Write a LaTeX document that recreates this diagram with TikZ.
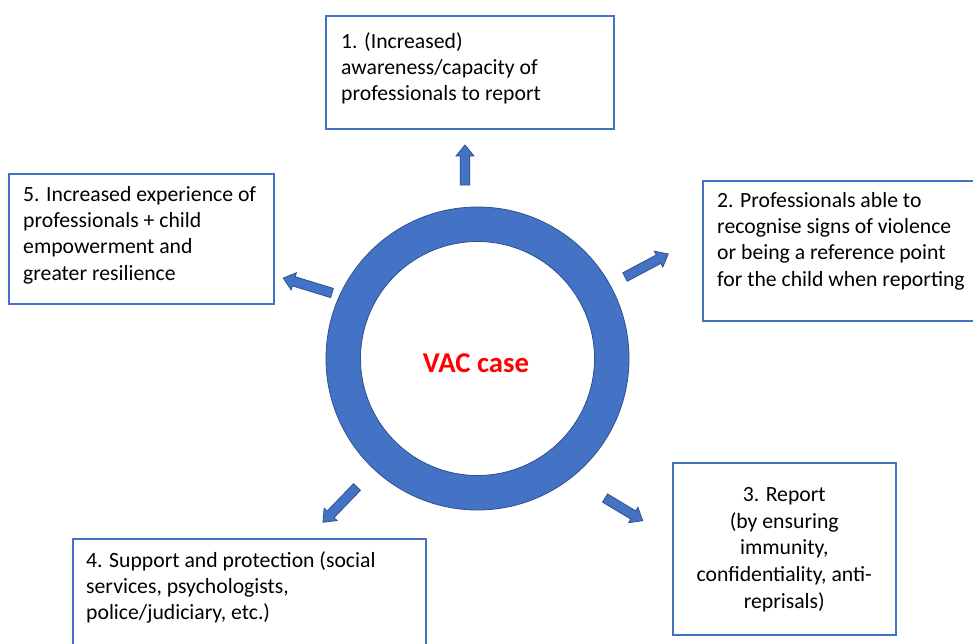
\documentclass[tikz,border=0pt]{standalone}
\usepackage{fontspec}
\setmainfont{Carlito}
\definecolor{accent}{HTML}{4472C4}
\definecolor{accentdark}{HTML}{2F528F}
\tikzset{
  box/.style={draw=accent, line width=1.5pt, inner sep=0pt, anchor=north west},
  boxtext/.style={inner sep=0pt, anchor=north west, align=left,
    font=\fontsize{21.7}{26.3}\selectfont, execute at begin node={\rule{0pt}{17pt}}},
  blockarrow/.style={fill=accent, draw=accentdark, line width=0.8pt, line join=miter},
}
\begin{document}
\begin{tikzpicture}[x=1pt,y=-1pt]
  \useasboundingbox (0,0) rectangle (973,643);
  % central ring
  \coordinate (centre) at (477.5,358.5);
  \fill[accent,even odd rule] (centre) circle (151.5) (centre) circle (117);
  \draw[accentdark,line width=0.8pt] (centre) circle (151.5) (centre) circle (117);
  \node[text=red,font=\fontsize{28.7}{34}\selectfont\bfseries] (vac) at (476,363.5) {VAC case};
  % the five boxes
  \node[box,minimum width=288pt,minimum height=113pt] (b1) at (325,15) {};
  \node[box,minimum width=290pt,minimum height=140pt] (b2) at (702,180) {};
  \node[box,minimum width=223pt,minimum height=172pt] (b3) at (672,462) {};
  \node[box,minimum width=353pt,minimum height=120pt] (b4) at (72,538) {};
  \node[box,minimum width=265pt,minimum height=130pt] (b5) at (8,173) {};
  \node[boxtext] (t1) at ([shift={(16,17)}]b1.north west)
    {1. (Increased)\\awareness/capacity of\\professionals to report};
  \node[boxtext] (t2) at ([shift={(15,12)}]b2.north west)
    {2. Professionals able to\\recognise signs of violence\\or being a reference point\\for the child when reporting};
  \node[boxtext,anchor=north,align=center,font=\fontsize{21.7}{26.8}\selectfont] (t3) at ([shift={(0,25)}]b3.north)
    {3. Report\\(by ensuring\\immunity,\\confidentiality, anti-\\reprisals)};
  \node[boxtext] (t4) at ([shift={(14,13)}]b4.north west)
    {4. Support and protection (social\\services, psychologists,\\police/judiciary, etc.)};
  \node[boxtext] (t5) at ([shift={(15,13)}]b5.north west)
    {5. Increased experience of\\professionals + child\\empowerment and\\greater resilience};
  % block arrows pointing out of the ring: tail x / tail y / angle / length
  \foreach \x/\y/\ang/\len in {465/185/90/40, 625/277/28/49, 605/498/-31/44, 357/487/226/49, 332/293/163/51}{
    \begin{scope}[shift={(\x,\y)},rotate=\ang]
      \draw[blockarrow] (0,-4.8) -- ({\len-11},-4.8) -- ({\len-11},-9) -- (\len,0)
        -- ({\len-11},9) -- ({\len-11},4.8) -- (0,4.8) -- cycle;
    \end{scope}
  }
\end{tikzpicture}
\end{document}
